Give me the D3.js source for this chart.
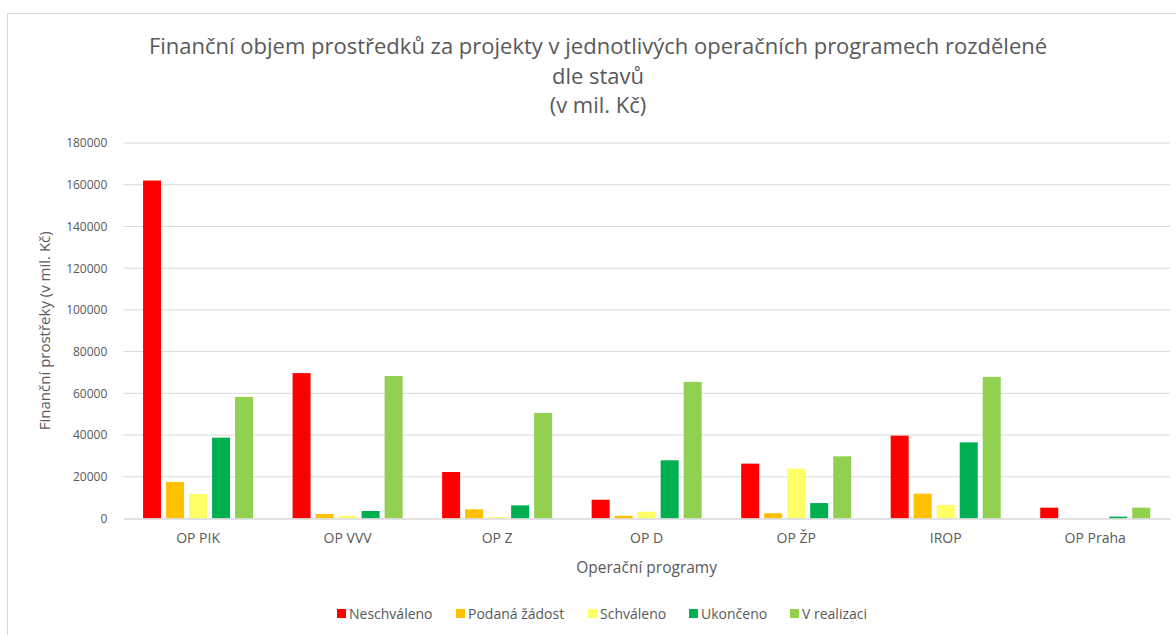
<!DOCTYPE html>
<meta charset="utf-8">
<style>
  body { margin: 0; background: #fff; }
  svg { font-family: "Open Sans", sans-serif; }
</style>
<svg width="1176" height="635"></svg>
<script src="https://d3js.org/d3.v7.min.js"></script>
<script>

var programs = ["OP PIK", "OP VVV", "OP Z", "OP D", "OP ŽP", "IROP", "OP Praha"]
var states = ["Neschváleno", "Podaná žádost", "Schváleno", "Ukončeno", "V realizaci"]
var colors = ["#FF0000", "#FFC000", "#FFFF66", "#00B050", "#92D050"]

// values in mil. Kč
var neschvaleno = [162000, 69700, 22300, 9000, 26300, 39700, 5200]
var podanaZadost = [17500, 2150, 4400, 1300, 2500, 11900, 0]
var schvaleno = [11750, 1200, 700, 3250, 23900, 6500, 0]
var ukonceno = [38750, 3600, 6300, 27900, 7400, 36500, 900]
var vRealizaci = [58300, 68300, 50600, 65500, 29800, 67900, 5200]

var yTicks = [0, 20000, 40000, 60000, 80000, 100000, 120000, 140000, 160000, 180000]

var series = [neschvaleno, podanaZadost, schvaleno, ukonceno, vRealizaci]

var svg = d3.select("svg")

// chart border
svg.append("rect")
  .attr("x", 7.5).attr("y", 13.5)
  .attr("width", 1200).attr("height", 700)
  .attr("fill", "none").attr("stroke", "#d9d9d9")

var plotLeft = 123.3, plotRight = 1170, plotTop = 143, plotBottom = 518.5

var x0 = d3.scaleBand().domain(programs).range([plotLeft, plotRight])
  .paddingInner(34.5 / 149.5).paddingOuter(17.25 / 149.5)
var x1 = d3.scaleBand().domain(states).range([0, x0.bandwidth()])
  .paddingInner(5 / 23).paddingOuter(2.5 / 23)
var y = d3.scaleLinear().domain([0, 180000]).range([plotBottom, plotTop])

// gridlines
svg.append("g").selectAll("line")
  .data(yTicks.slice(1))
  .enter().append("line")
    .attr("x1", plotLeft).attr("x2", plotRight)
    .attr("y1", d => y(d)).attr("y2", d => y(d))
    .attr("stroke", "#d9d9d9").attr("stroke-width", 1)

// y axis labels
var yAxis = d3.axisLeft(y).tickValues(yTicks).tickSize(0).tickPadding(16).tickFormat(d3.format("d"))
var gy = svg.append("g").attr("transform", "translate(" + plotLeft + ",0)").call(yAxis)
gy.select(".domain").remove()
gy.selectAll("text").attr("fill", "#595959").attr("font-size", 12)
  .attr("font-family", "Open Sans")

// bars
var groups = svg.append("g").selectAll("g")
  .data(programs)
  .enter().append("g")
    .attr("transform", d => "translate(" + x0(d) + ",0)")

groups.selectAll("rect")
  .data((p, i) => states.map((s, j) => ({ state: s, value: series[j][i], color: colors[j] })))
  .enter().append("rect")
    .attr("x", d => x1(d.state))
    .attr("width", x1.bandwidth())
    .attr("y", d => y(d.value))
    .attr("height", d => plotBottom - y(d.value))
    .attr("fill", d => d.color)

// baseline + category labels
var xAxis = d3.axisBottom(x0).tickSize(0).tickPadding(15)
var gx = svg.append("g").attr("transform", "translate(0," + plotBottom + ")").call(xAxis)
gx.select(".domain").attr("stroke", "#d9d9d9").attr("stroke-width", 1.5)
gx.selectAll("text").attr("fill", "#595959").attr("font-size", 14)
  .attr("font-family", "Open Sans")

// titles
var title = svg.append("text")
  .attr("text-anchor", "middle")
  .attr("fill", "#595959")
  .attr("font-size", 22)
title.selectAll("tspan")
  .data(["Finanční objem prostředků za projekty v jednotlivých operačních programech rozdělené", "dle stavů", "(v mil. Kč)"])
  .enter().append("tspan")
    .attr("x", 598)
    .attr("y", (d, i) => 54 + i * 29.5)
    .text(d => d)

svg.append("text")
  .attr("text-anchor", "middle")
  .attr("fill", "#595959")
  .attr("font-size", 15.5)
  .attr("x", (plotLeft + plotRight) / 2).attr("y", 573)
  .text("Operační programy")

svg.append("text")
  .attr("text-anchor", "middle")
  .attr("fill", "#595959")
  .attr("font-size", 15)
  .attr("transform", "translate(50," + (plotTop + plotBottom) / 2 + ") rotate(-90)")
  .text("Finanční prostřeky (v mil. Kč)")

// legend
var legendX = [337, 456, 588, 689, 790]
var legend = svg.append("g").selectAll("g")
  .data(states)
  .enter().append("g")
    .attr("transform", (d, i) => "translate(" + legendX[i] + ",609)")
legend.append("rect")
  .attr("width", 9).attr("height", 9)
  .attr("fill", (d, i) => colors[i])
legend.append("text")
  .attr("x", 12).attr("y", 9.5)
  .attr("fill", "#595959")
  .attr("font-size", 14)
  .text(d => d)

</script>
